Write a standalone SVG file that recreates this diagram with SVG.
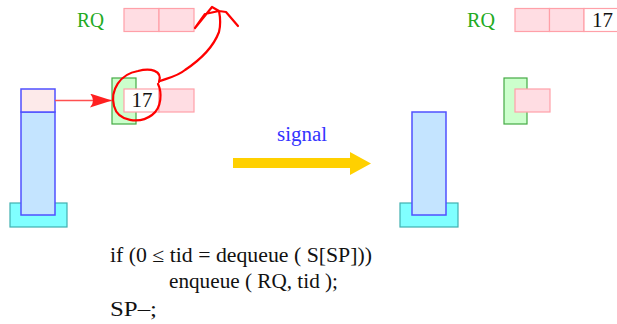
<svg xmlns="http://www.w3.org/2000/svg" width="617" height="324" viewBox="0 0 617 324">
<style>
.t{font-family:"Liberation Serif","DejaVu Serif",serif;font-size:20px;fill:#111}
.n{font-family:"Liberation Serif","DejaVu Serif",serif;font-size:21px;fill:#111}
.rq{font-family:"Liberation Serif","DejaVu Serif",serif;font-size:20px;fill:#22aa22}
.cell{fill:#ffdde3;stroke:#ffa0a8;stroke-width:1.2}
.wcell{fill:#ffffff;stroke:#ffa0a8;stroke-width:1.2}
.grn{fill:#ccffcc;stroke:#44aa44;stroke-width:1.2}
.col{fill:#c4e4ff;stroke:#5050ff;stroke-width:1.5}
.top{fill:#fdeaea;stroke:#5050ff;stroke-width:1.5}
.base{fill:#80ffff;stroke:#40b0b0;stroke-width:1.2}
.scr{fill:none;stroke:#ff0000;stroke-width:2.2;stroke-linecap:round;stroke-linejoin:round}
</style>
<defs>
<marker id="ah" viewBox="0 0 22 14" refX="22" refY="7" markerWidth="22" markerHeight="14" markerUnits="userSpaceOnUse" orient="auto">
<path d="M0,0 L22,7 L0,14 Q6,7 0,0 Z" fill="#ff2020"/>
</marker>
</defs>
<g id="left-rq">
<text class="rq" x="77" y="27" textLength="27" lengthAdjust="spacingAndGlyphs">RQ</text>
<rect class="cell" x="124" y="8.5" width="35" height="23"/>
<rect class="cell" x="159" y="8.5" width="35" height="23"/>
</g>
<g id="left-stack">
<rect class="base" x="10" y="203" width="57" height="24"/>
<rect class="col" x="21" y="112" width="34" height="103"/>
<rect class="top" x="21" y="89" width="34" height="23"/>
</g>
<g id="left-thread">
<rect class="grn" x="112" y="78" width="24" height="46"/>
<rect class="wcell" x="124" y="89" width="35" height="23"/>
<rect class="cell" x="159" y="89" width="35" height="23"/>
<text class="n" x="131.5" y="107">17</text>
</g>
<g id="right-rq">
<text class="rq" x="467" y="27" textLength="28" lengthAdjust="spacingAndGlyphs">RQ</text>
<rect class="cell" x="515" y="8.5" width="34.5" height="23"/>
<rect class="cell" x="549.5" y="8.5" width="34.5" height="23"/>
<rect class="wcell" x="584" y="8.5" width="34.5" height="23"/>
<text class="n" x="592" y="27">17</text>
</g>
<g id="right-stack">
<rect class="base" x="400" y="203" width="58" height="24"/>
<rect class="col" x="412" y="112" width="34" height="103"/>
</g>
<g id="right-thread">
<rect class="grn" x="504" y="78" width="23" height="46"/>
<rect class="cell" x="515" y="89" width="35" height="23"/>
</g>
<g id="signal-label">
<text x="277" y="141" textLength="50" lengthAdjust="spacingAndGlyphs" style="font-family:'Liberation Serif','DejaVu Serif',serif;font-size:20px;fill:#3333ff">signal</text>
</g>
<g id="code">
<text class="t" x="110" y="262" textLength="262" lengthAdjust="spacingAndGlyphs">if (0 ≤ tid = dequeue ( S[SP]))</text>
<text class="t" x="169" y="288" textLength="169" lengthAdjust="spacingAndGlyphs">enqueue ( RQ, tid );</text>
<text class="t" x="110" y="316" textLength="47" lengthAdjust="spacingAndGlyphs">SP–;</text>
</g>
<g id="connectors">
<line x1="55" y1="100.5" x2="112" y2="100.5" stroke="#ff5050" stroke-width="1.5" marker-end="url(#ah)"/>
<path d="M233,158 H350 V152 L371,163.5 L350,175 V168 H233 Z" fill="#ffd000"/>
<path class="scr" d="M159,82 C163,70 150,68 138,71 C120,74 110,90 114,106 C118,122 140,124 152,115 C162,108 162,92 158,84"/>
<path class="scr" d="M160,81 C168,78 178,76 185,70 C200,60 213,48 219,32 C221,24 220,16 219,11 L212,7 L195,28 M219,11 L205,14 L195,28 M219,11 L226,12 L238,26"/>
</g>
</svg>
